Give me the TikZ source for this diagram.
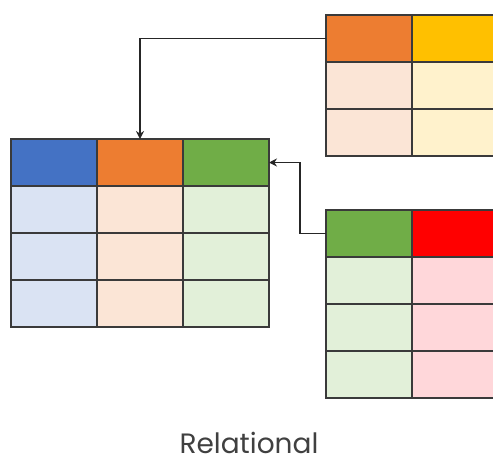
\documentclass[tikz,border=0pt]{standalone}
\usepackage{fontspec}
\setmainfont{Poppins}
\usetikzlibrary{arrows.meta}
\definecolor{hblue}{HTML}{4472C4}
\definecolor{horange}{HTML}{ED7D31}
\definecolor{hgreen}{HTML}{70AD47}
\definecolor{hyellow}{HTML}{FFC000}
\definecolor{hred}{HTML}{FF0000}
\definecolor{lblue}{HTML}{DAE3F3}
\definecolor{lorange}{HTML}{FBE5D6}
\definecolor{lgreen}{HTML}{E2F0D9}
\definecolor{lyellow}{HTML}{FFF2CC}
\definecolor{lred}{HTML}{FFD7DA}
\definecolor{linegray}{HTML}{3A3A3A}
\definecolor{textgray}{HTML}{404040}
\begin{document}
\begin{tikzpicture}[x=1pt,y=-1pt,
  cell/.style={draw=linegray, line width=1.5pt, minimum width=86pt, minimum height=47pt,
    anchor=north west, inner sep=0pt, outer sep=0pt},
  link/.style={draw=black!85, line width=1.7pt, -{Stealth[length=8pt,width=8pt]}}]
\useasboundingbox (0,0) rectangle (493,464);
\clip (0,0) rectangle (493,464);
% left table
\node[cell, fill=hblue]   (L-h1) at (11,139) {};
\node[cell, fill=horange] (L-h2) at (97,139) {};
\node[cell, fill=hgreen]  (L-h3) at (183,139) {};
\foreach \r in {1,2,3} {
  \node[cell, fill=lblue]   (L-\r-1) at (11,139+47*\r) {};
  \node[cell, fill=lorange] (L-\r-2) at (97,139+47*\r) {};
  \node[cell, fill=lgreen]  (L-\r-3) at (183,139+47*\r) {};
}
% top right table
\node[cell, fill=horange] (T-h1) at (326,15) {};
\node[cell, fill=hyellow] (T-h2) at (412,15) {};
\foreach \r in {1,2} {
  \node[cell, fill=lorange] (T-\r-1) at (326,15+47*\r) {};
  \node[cell, fill=lyellow] (T-\r-2) at (412,15+47*\r) {};
}
% bottom right table
\node[cell, fill=hgreen] (B-h1) at (326,210) {};
\node[cell, fill=hred]   (B-h2) at (412,210) {};
\foreach \r in {1,2,3} {
  \node[cell, fill=lgreen] (B-\r-1) at (326,210+47*\r) {};
  \node[cell, fill=lred]   (B-\r-2) at (412,210+47*\r) {};
}
% connectors
\draw[link] (T-h1.west) -| (L-h2.north);
\draw[link] (B-h1.west) -- ++(-26,0) |- (L-h3.east);
% caption
\node[anchor=base, font=\fontsize{28}{32}\selectfont, text=textgray, inner sep=0pt] (title) at (249,453) {Relational};
\end{tikzpicture}
\end{document}
